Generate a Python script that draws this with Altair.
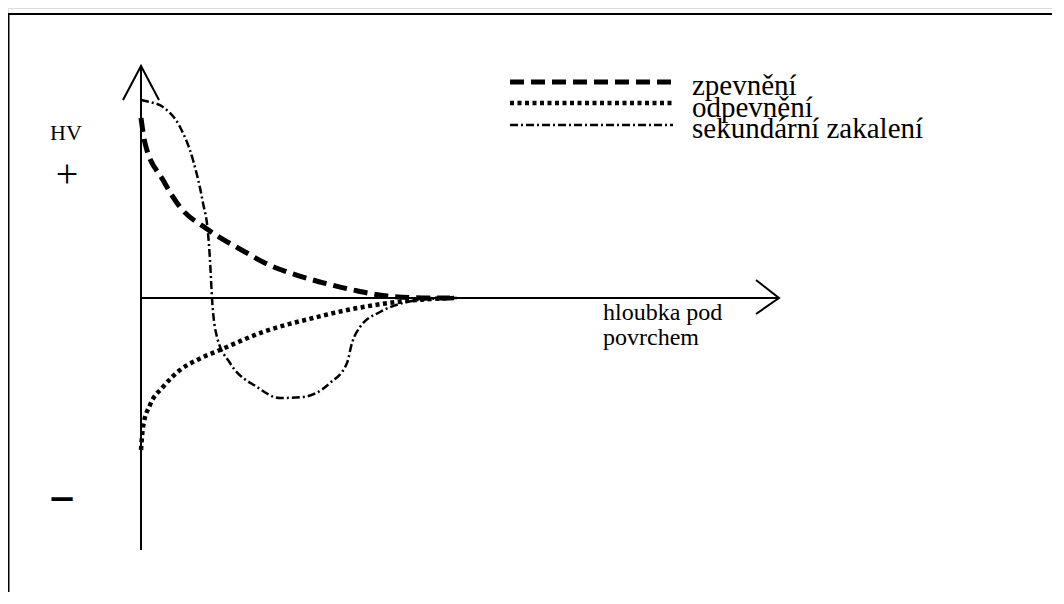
import altair as alt
import pandas as pd

# --- curve data (depth below surface, hardness change HV) ---
zp_d = [0, 0.4, 2.2, 3.9, 6.6, 10.6, 12.2, 14.9, 17.2, 21.2, 24.6, 28.9, 30.9]
zp_h = [18, 15.5, 11.8, 9.1, 6.9, 4.5, 3.6, 2.5, 1.8, 0.8, 0.2, 0, 0]

od_d = [0, 0.2, 0.9, 2.2, 3.9, 5.6, 7.9, 12.2, 17.2, 22.2, 25.6, 28.9, 31.4]
od_h = [-15.2, -12.9, -10.7, -8.9, -7.2, -6.2, -5.2, -3.4, -2.0, -0.9, -0.4, -0.1, 0]

sz_d = [0, 0.9, 2.2, 3.9, 5.2, 6.2, 6.7, 6.9, 7.1, 7.6, 8.9, 11.6, 13.9, 16.2, 18.9,
        20.6, 21.1, 21.9, 23.9, 26.2, 28.9, 31.6]
sz_h = [19.8, 19.6, 19.1, 17.1, 13.8, 9.5, 6.5, 3.8, 0, -3.9, -6.5, -8.9, -10, -9.9, -8.5,
        -6.5, -4.5, -2.9, -1.4, -0.5, -0.1, 0]

series_names = ["zpevnění", "odpevnění", "sekundární zakalení"]
axis_labels = ["HV", "+", "−"]
x_label = ["hloubka pod", "povrchem"]

SERIF = "Liberation Serif"

X_DOM = [-13.3, 91.1]
Y_DOM = [-29.4, 29.0]
xs = alt.Scale(domain=X_DOM, nice=False, zero=False)
ys = alt.Scale(domain=Y_DOM, nice=False, zero=False)


def X(f="d"):
    return alt.X(f"{f}:Q", scale=xs, axis=None)


def Y(f="h"):
    return alt.Y(f"{f}:Q", scale=ys, axis=None)


def curve(dd, hh, width, dash):
    df = pd.DataFrame({"d": dd, "h": hh, "o": list(range(len(dd)))})
    return alt.Chart(df).mark_line(
        color="black", strokeWidth=width, strokeDash=dash, interpolate="monotone"
    ).encode(x=X(), y=Y(), order="o:Q")


styles = [(5, [14, 7]), (4.5, [4, 3.5]), (2.5, [8, 3, 2, 3])]

layers = []
# frame (top and left edges; the others fall outside the picture)
top_df = pd.DataFrame({"d": [-13.3], "d2": [91.1], "h": [28.4]})
layers.append(alt.Chart(top_df).mark_rule(color="black", strokeWidth=2).encode(
    x=X(), x2="d2:Q", y=Y()))
left_df = pd.DataFrame({"d": [-13.25], "h": [28.4], "h2": [-29.4]})
layers.append(alt.Chart(left_df).mark_rule(color="black", strokeWidth=2).encode(
    x=X(), y=Y(), y2="h2:Q"))

# axes
vax = pd.DataFrame({"d": [0], "h": [23.2], "h2": [-25.2]})
layers.append(alt.Chart(vax).mark_rule(color="black", strokeWidth=2).encode(
    x=X(), y=Y(), y2="h2:Q"))
hax = pd.DataFrame({"d": [0], "d2": [63.8], "h": [0]})
layers.append(alt.Chart(hax).mark_rule(color="black", strokeWidth=2).encode(
    x=X(), x2="d2:Q", y=Y()))
arrows = pd.DataFrame({
    "d": [-1.8, 0, 1.8, 61.5, 63.8, 61.5],
    "h": [19.8, 23.2, 19.8, 1.8, 0.0, -1.6],
    "g": ["u", "u", "u", "r", "r", "r"],
    "o": [0, 1, 2, 0, 1, 2],
})
layers.append(alt.Chart(arrows).mark_line(color="black", strokeWidth=2).encode(
    x=X(), y=Y(), detail="g:N", order="o:Q"))

# curves
curves_data = [(zp_d, zp_h), (od_d, od_h), (sz_d, sz_h)]
for (dd, hh), (w, dash) in zip(curves_data, styles):
    layers.append(curve(dd, hh, w, dash))

# legend
leg_h = [21.6, 19.5, 17.3]
leg_base = [20.3, 18.1, 16.0]
for name, hv, (w, dash) in zip(series_names, leg_h, styles):
    ldf = pd.DataFrame({"d": [36.9], "d2": [53.2], "h": [hv]})
    layers.append(alt.Chart(ldf).mark_rule(color="black", strokeWidth=w, strokeDash=dash).encode(
        x=X(), x2="d2:Q", y=Y()))
leg_txt = pd.DataFrame({"d": [55.1] * 3, "h": leg_base, "t": series_names})
layers.append(alt.Chart(leg_txt).mark_text(
    align="left", baseline="alphabetic", font=SERIF, fontSize=29, color="black"
).encode(x=X(), y=Y(), text="t:N"))

# axis labels
hv_df = pd.DataFrame({"d": [-7.5], "h": [16.5], "t": [axis_labels[0]]})
layers.append(alt.Chart(hv_df).mark_text(
    align="center", baseline="middle", font=SERIF, fontSize=22, color="black"
).encode(x=X(), y=Y(), text="t:N"))
plus_df = pd.DataFrame({"d": [-7.4], "h": [12.3], "t": [axis_labels[1]]})
layers.append(alt.Chart(plus_df).mark_text(
    align="center", baseline="middle", font=SERIF, fontSize=40, color="black"
).encode(x=X(), y=Y(), text="t:N"))
minus_df = pd.DataFrame({"d": [-7.9], "h": [-20.2], "t": [axis_labels[2]]})
layers.append(alt.Chart(minus_df).mark_text(
    align="center", baseline="middle", font="DejaVu Sans", fontSize=34, fontWeight="bold",
    color="black"
).encode(x=X(), y=Y(), text="t:N"))
xl_df = pd.DataFrame({"d": [46.2, 46.2], "h": [-2.2, -4.7], "t": x_label})
layers.append(alt.Chart(xl_df).mark_text(
    align="left", baseline="alphabetic", font=SERIF, fontSize=24, color="black"
).encode(x=X(), y=Y(), text="t:N"))

chart = alt.layer(*layers).properties(
    width=1044, height=584, padding=0,
    autosize=alt.AutoSizeParams(type="none"),
).configure_view(stroke="transparent", strokeWidth=0, strokeOpacity=0).configure(
    background="white")

chart.save("out.html", embed_options={"renderer": "svg", "actions": False})
